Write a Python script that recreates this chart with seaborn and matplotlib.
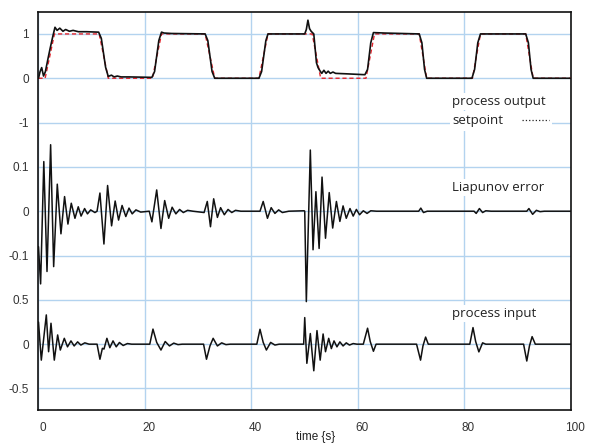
import numpy as np
import pandas as pd
import seaborn as sns
import matplotlib.pyplot as plt
from matplotlib.lines import Line2D
from matplotlib.transforms import ScaledTranslation

# setpoint (red dashed) - square wave with ramps
t_sp = [0, 1.25, 3.0, 11.4, 13.1, 21.4, 23.1, 31.3, 33.1, 41.4, 43.1, 51.4, 53.0,
        61.5, 63.1, 71.5, 72.9, 81.5, 83.0, 91.5, 92.9, 100]
sp = [0, 0, 1, 1, 0, 0, 1, 1, 0, 0, 1, 1, 0, 0, 1, 1, 0, 0, 1, 1, 0, 0]

# process output
t_out = [0, 0.3, 0.6, 0.95, 1.3, 1.8, 2.2, 2.7, 3.1, 3.5, 4.0, 4.6, 5.1, 5.8, 6.5, 7.5, 9.0,
         11.3, 11.8, 12.6, 13.1, 13.7, 14.2, 14.8, 15.5, 17.0, 21.3, 21.8, 22.6, 23.1, 23.6,
         25.0, 31.3, 31.8, 32.6, 33.1, 41.4, 41.9, 42.7, 43.1, 50.0, 50.3, 50.6, 50.9, 51.2,
         51.7, 52.2, 52.5, 52.9, 53.2, 53.6, 54.0, 54.4, 54.8, 55.3, 55.8, 57.8, 61.3, 61.8,
         62.4, 62.9, 65.0, 71.5, 72.0, 72.5, 72.9, 81.4, 81.9, 82.5, 83.0, 91.5, 92.0, 92.5,
         92.9, 100]
out = [0.0, 0.15, 0.24, 0.05, 0.15, 0.45, 0.68, 0.95, 1.15, 1.08, 1.13, 1.06, 1.1, 1.06, 1.08,
       1.05, 1.05, 1.04, 0.9, 0.25, 0.04, 0.07, 0.03, 0.05, 0.03, 0.03, 0.02, 0.15, 0.85, 1.04,
       1.02, 1.01, 1.0, 0.85, 0.15, 0.0, 0.0, 0.15, 0.85, 1.0, 1.0, 1.1, 1.31, 1.12, 1.06,
       1.0, 0.35, 0.24, 0.16, 0.11, 0.18, 0.11, 0.16, 0.11, 0.14, 0.11, 0.1, 0.08, 0.2,
       0.8, 1.03, 1.02, 1.0, 0.8, 0.2, 0.0, 0.0, 0.2, 0.8, 1.0, 1.0, 0.8, 0.2, 0.0, 0.0]

# Liapunov error
t_err = [0, 0.4, 1.0, 1.6, 2.28, 2.85, 3.53, 4.22, 4.9, 5.53, 6.16, 6.85, 7.47, 8.0, 8.66, 9.2,
         9.8, 10.6, 11.0, 11.54, 12.29, 12.98, 13.73, 14.4, 15.04, 15.7, 16.4, 17.0, 17.6,
         18.3, 19.2, 20.8, 21.3, 22.2, 23.0, 23.7, 24.45, 25.1, 25.8, 26.5, 27.2, 28.0, 29.0,
         31.1, 31.7, 32.3, 32.9, 33.6, 34.2, 34.9, 35.6, 36.3, 37.0, 38.0, 41.6, 42.2, 43.0,
         43.7, 44.4, 45.1, 45.8, 47.0, 49.9, 50.0, 50.3, 51.05, 51.56, 52.1, 52.7, 53.25,
         53.9, 54.6, 55.25, 55.95, 56.6, 57.2, 57.8, 58.5, 59.1, 59.7, 60.3, 61.0, 61.7, 62.4,
         63.5, 71.4, 71.8, 72.3, 73.0, 81.8, 82.2, 82.8, 83.4, 84.0, 85.0, 91.7, 92.1, 92.8,
         93.5, 94.2, 95.0, 100]
err = [-0.08, -0.164, 0.112, -0.136, 0.15, -0.125, 0.061, -0.051, 0.033, -0.029, 0.018,
       -0.016, 0.01, -0.011, 0.006, -0.006, 0.003, -0.003, 0.0, 0.041, -0.074, 0.058, -0.033,
       0.023, -0.02, 0.013, -0.012, 0.007, -0.006, 0.003, -0.002, 0.0, -0.024, 0.048, -0.039,
       0.024, -0.016, 0.009, -0.006, 0.004, -0.003, 0.002, 0.0, -0.003, 0.022, -0.035, 0.028,
       -0.014, 0.008, -0.008, 0.004, -0.003, 0.002, 0.0, 0.0, 0.022, -0.016, 0.008, -0.005,
       0.003, -0.003, 0.0, 0.001, 0.0, -0.204, 0.138, -0.087, 0.044, -0.084, 0.077, -0.061,
       0.042, -0.038, 0.022, -0.023, 0.012, -0.016, 0.006, -0.011, 0.004, -0.008, 0.001,
       -0.005, 0.001, 0.0, 0.0, 0.007, -0.003, 0.0, 0.0, -0.005, 0.006, -0.003, 0.001, 0.0,
       0.0, 0.006, -0.007, 0.002, -0.001, 0.0, 0.0]

# process input
t_u = [0, 0.53, 1.47, 1.9, 2.35, 2.97, 3.6, 4.1, 4.85, 5.45, 6.1, 6.7, 7.35, 7.96, 8.7, 9.5,
       11.0, 11.54, 12.0, 12.3, 12.85, 13.4, 14.0, 14.6, 15.2, 15.9, 16.7, 17.5, 20.9, 21.5,
       22.2, 23.0, 23.8, 24.6, 25.4, 26.2, 27.0, 31.0, 31.55, 32.2, 32.8, 33.6, 34.4, 35.2,
       36.0, 41.0, 41.6, 42.2, 42.8, 43.6, 44.4, 45.2, 49.8, 50.0, 50.4, 51.05, 51.7, 52.3,
       52.9, 53.45, 53.9, 54.5, 55.0, 55.5, 56.05, 56.6, 57.2, 57.8, 58.4, 59.1, 59.8, 61.0,
       61.8, 62.3, 62.9, 63.4, 71.0, 71.75, 72.2, 72.7, 73.2, 81.0, 81.6, 82.1, 82.7, 83.4,
       84.0, 91.1, 91.7, 92.2, 92.7, 93.3, 100]
u = [0.25, -0.18, 0.33, -0.085, 0.236, -0.18, 0.104, -0.066, 0.066, -0.03, 0.037, -0.02,
     0.026, -0.01, 0.015, 0.0, 0.0, -0.17, -0.047, -0.055, 0.066, -0.04, 0.037, -0.03, 0.019,
     -0.015, 0.007, 0.0, 0.0, 0.17, 0.02, -0.066, 0.03, -0.02, 0.012, -0.005, 0.0, 0.0, -0.17,
     -0.02, 0.066, -0.02, 0.015, -0.005, 0.0, 0.0, 0.168, 0.02, -0.066, 0.02, -0.01, 0.0, 0.0,
     0.30, -0.216, 0.12, -0.30, 0.153, -0.18, 0.115, -0.085, 0.066, -0.05, 0.037, -0.03, 0.026,
     -0.02, 0.015, -0.01, 0.007, 0.0, 0.0, 0.18, 0.03, -0.08, 0.0, 0.0, -0.18, -0.02, 0.08, 0.0,
     0.0, 0.187, 0.03, -0.087, 0.015, 0.0, 0.0, -0.19, -0.02, 0.085, 0.0, 0.0]

ytick_labels = ['1', '0', '-1', '0.1', '0', '-0.1', '0.5', '0', '-0.5']
xticks = [0, 20, 40, 60, 80, 100]

# each signal gets its own band on the shared y axis (offset, gain)
OUT_BAND = (7, 1)
ERR_BAND = (4, 10)
U_BAND = (1, 2)

sns.set_style("white")
plt.rcParams['font.family'] = ['Liberation Sans', 'DejaVu Sans']

fig, ax = plt.subplots(figsize=(5.92, 4.44), dpi=100)
fig.subplots_adjust(left=0.065, right=0.9645, bottom=0.0766, top=0.9725)

sp_y = OUT_BAND[0] + OUT_BAND[1] * np.array(sp)
out_y = OUT_BAND[0] + OUT_BAND[1] * np.array(out)
err_y = ERR_BAND[0] + ERR_BAND[1] * np.array(err)
u_y = U_BAND[0] + U_BAND[1] * np.array(u)

sns.lineplot(x=t_sp, y=sp_y, ax=ax, color='#e3232b', lw=1.0, dashes=False,
             estimator=None, sort=False, zorder=3).lines[-1].set_dashes([3, 2])
sns.lineplot(x=t_out, y=out_y, ax=ax, color='#111111', lw=1.2, estimator=None, sort=False, zorder=4)
sns.lineplot(x=t_err, y=err_y, ax=ax, color='#111111', lw=1.1, estimator=None, sort=False, zorder=4)
sns.lineplot(x=t_u, y=u_y, ax=ax, color='#111111', lw=1.1, estimator=None, sort=False, zorder=4)

ax.set_xlim(0, 100)
ax.set_ylim(-0.485, 8.49)
ax.set_xticks(xticks)
ax.set_xticklabels([str(v) for v in xticks])
ax.set_yticks([8, 7, 6, 5, 4, 3, 2, 1, 0])
ax.set_yticklabels(ytick_labels)
ax.tick_params(length=0, labelsize=8.5, labelcolor='#333333')
ax.tick_params(axis='y', pad=7)
ax.tick_params(axis='x', pad=9)
for lab in ax.get_xticklabels():
    lab.set_transform(lab.get_transform() + ScaledTranslation(4 / 100, 0, fig.dpi_scale_trans))

ax.grid(True, color='#b3d3ef', lw=1.0)
ax.set_axisbelow(True)
for s in ax.spines.values():
    s.set_color('#111111')
    s.set_linewidth(1.2)

ax.set_xlabel('time {s}', fontsize=8.5, color='#222222', va='center')
ax.xaxis.set_label_coords(0.521, -0.068)

txt = dict(fontsize=9.5, family=['Open Sans', 'DejaVu Sans'], color='#222222', va='center',
           ha='left', zorder=5, bbox=dict(facecolor='white', edgecolor='none', pad=1.5))
ax.text(77.7, 6.47, 'process output', **txt)
ax.text(77.7, 4.53, 'Liapunov error', **txt)
ax.text(77.7, 1.7, 'process input', **txt)

leg = ax.legend(handles=[Line2D([], [], color='#222222', ls=':', lw=0.9)], labels=['setpoint'],
                markerfirst=False, frameon=True, loc='center left', bbox_to_anchor=(77.2, 6.04),
                bbox_transform=ax.transData, handlelength=2.0, handletextpad=1.4,
                borderpad=0.25, borderaxespad=0,
                prop={'family': ['Open Sans', 'DejaVu Sans'], 'size': 9.5})
leg.get_frame().set_facecolor('white')
leg.get_frame().set_edgecolor('none')
leg.get_frame().set_alpha(1)
for t in leg.get_texts():
    t.set_color('#222222')

fig.savefig('out.png', dpi=100)
